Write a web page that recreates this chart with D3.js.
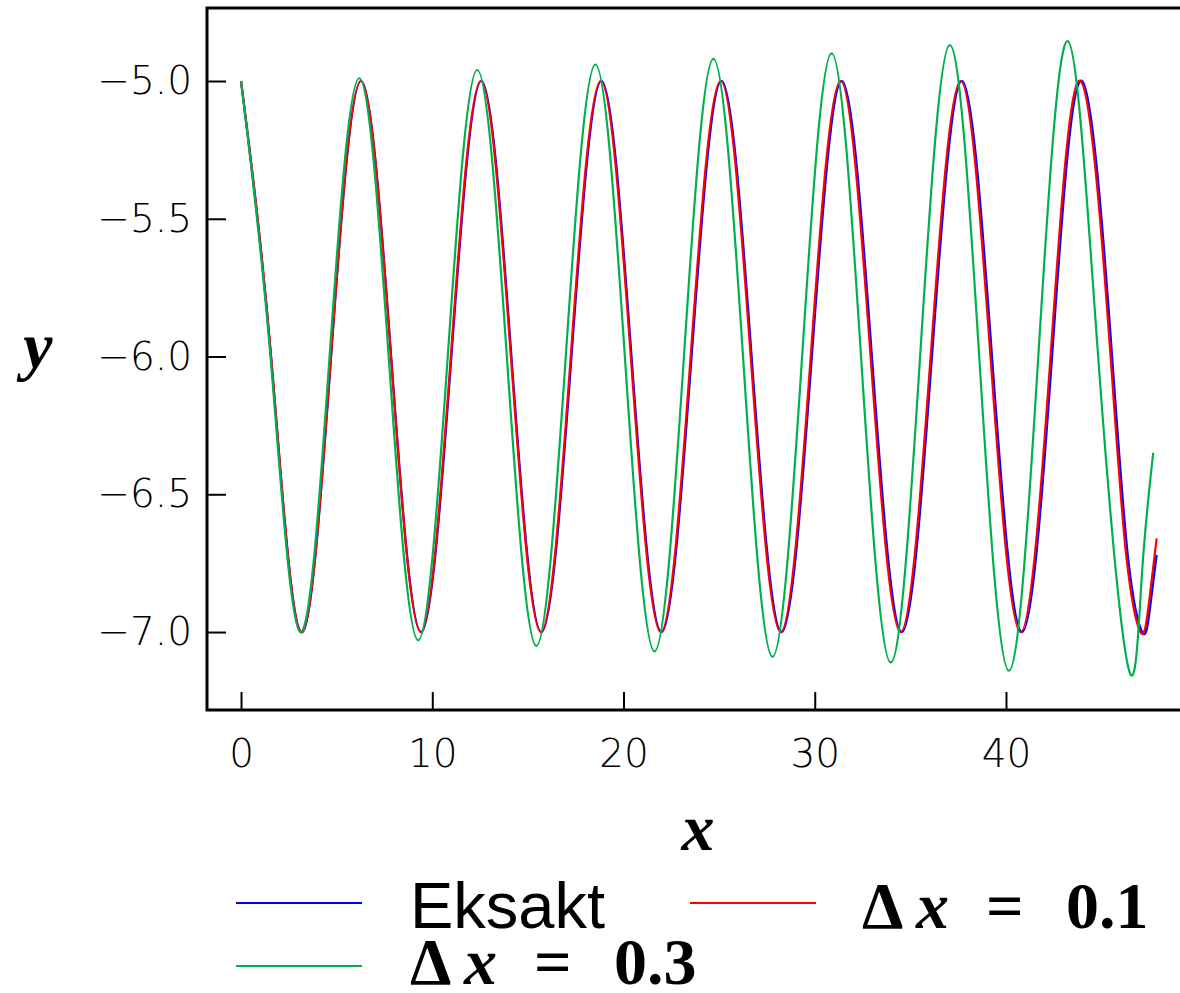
<html lang="en">
<head>
<meta charset="UTF-8">
<title>Eksakt vs numerisk</title>
<script src="https://d3js.org/d3.v7.min.js"></script>
<style>
  body { margin: 0; background: #fff; }
  .tick text { font-family: "DejaVu Sans", sans-serif; font-weight: 200; font-size: 39px; fill: #000; }
  .math { font-family: "Liberation Serif", serif; font-weight: bold; fill: #000; }
  .legend-text { font-family: "Liberation Sans", Arial, sans-serif; font-size: 65px; fill: #000; }
</style>
</head>
<body>
<svg id="chart" width="1180" height="993"></svg>
<script>
// exact solution, read at quarter periods
const exaktX = [0, 1.57, 3.14, 4.71, 6.28, 7.85, 9.42, 11.00, 12.57, 14.14, 15.71, 17.28, 18.85, 20.42, 21.99, 23.56,
  25.13, 26.70, 28.27, 29.85, 31.42, 32.99, 34.56, 36.13, 37.70, 39.27, 40.84, 42.41, 43.98, 45.55, 46.40, 47.12, 47.50, 47.88];
const exaktY = [-5.0, -6.0, -7.0, -6.0, -5.0, -6.0, -7.0, -6.0, -5.0, -6.0, -7.0, -6.0, -5.0, -6.0, -7.0, -6.0,
  -5.0, -6.0, -7.0, -6.0, -5.0, -6.0, -7.0, -6.0, -5.0, -6.0, -7.0, -6.0, -5.0, -6.0, -6.74, -7.0, -6.93, -6.72];

// dx = 0.1
const dx01X = [0, 1.57, 3.13, 4.70, 6.27, 7.84, 9.40, 10.97, 12.54, 14.11, 15.68, 17.24, 18.81, 20.38, 21.95, 23.51,
  25.08, 26.65, 28.22, 29.79, 31.35, 32.92, 34.49, 36.06, 37.63, 39.19, 40.76, 42.33, 43.90, 45.47, 46.30, 47.03, 47.45, 47.88];
const dx01Y = [-5.0, -6.0, -7.0, -6.0, -5.0, -6.0, -7.0, -6.0, -5.0, -6.0, -7.0, -6.0, -5.0, -6.0, -7.0, -6.0,
  -5.0, -6.0, -7.0, -6.0, -5.0, -6.0, -7.0, -6.0, -5.0, -6.0, -7.0, -6.0, -5.0, -6.0, -6.73, -7.0, -6.91, -6.66];

// dx = 0.3
const dx03X = [0, 1.54, 3.09, 4.63, 6.18, 7.72, 9.26, 10.81, 12.35, 13.90, 15.44, 16.98, 18.53, 20.07, 21.62, 23.16,
  24.70, 26.25, 27.79, 29.34, 30.88, 32.42, 33.97, 35.51, 37.06, 38.60, 40.15, 41.69, 43.23, 44.82, 46.40, 47.10, 47.70];
const dx03Y = [-5.0, -6.0, -7.0, -6.0, -4.99, -6.0, -7.03, -6.0, -4.96, -6.0, -7.05, -6.0, -4.94, -6.0, -7.07, -6.0,
  -4.92, -6.0, -7.09, -6.0, -4.90, -6.0, -7.11, -6.0, -4.87, -6.0, -7.14, -6.0, -4.855, -6.0, -7.13, -6.80, -6.35];

const xTicks = [0, 10, 20, 30, 40];
const yTicks = [-5.0, -5.5, -6.0, -6.5, -7.0];

const svg = d3.select("#chart");

const x = d3.scaleLinear().domain([-1.78, 49.1]).range([207, 1180]);
const y = d3.scaleLinear().domain([-7.283, -4.735]).range([710, 8]);

// frame: left, bottom and top lines
svg.append("path")
  .attr("d", `M1180,${y.range()[1]}H${x.range()[0]}V${y.range()[0]}H1180`)
  .attr("fill", "none")
  .attr("stroke", "#000")
  .attr("stroke-width", 3);

const xAxis = d3.axisBottom(x).tickValues(xTicks).tickFormat(d3.format("d"))
  .tickSizeInner(-18).tickSizeOuter(0).tickPadding(29);
const yAxis = d3.axisLeft(y).tickValues(yTicks).tickFormat(d3.format(".1f"))
  .tickSizeInner(-19).tickSizeOuter(0).tickPadding(15);

const gx = svg.append("g").attr("transform", "translate(0,710)").call(xAxis);
const gy = svg.append("g").attr("transform", "translate(207,0)").call(yAxis);
[gx, gy].forEach(g => {
  g.select(".domain").remove();
  g.selectAll(".tick line").attr("stroke", "#000").attr("stroke-width", 2);
});

const line = d3.line().x(d => x(d[0])).y(d => y(d[1])).curve(d3.curveNatural);

const series = [
  { xs: exaktX, ys: exaktY, color: "#0000ff" },
  { xs: dx01X, ys: dx01Y, color: "#ff0000" },
  { xs: dx03X, ys: dx03Y, color: "#00b050" }
];
series.forEach(s => {
  svg.append("path")
    .datum(d3.zip(s.xs, s.ys))
    .attr("d", line)
    .attr("fill", "none")
    .attr("stroke", s.color)
    .attr("stroke-width", 2.2);
});

// axis labels
svg.append("text").attr("class", "math")
  .attr("x", 38).attr("y", 368).attr("text-anchor", "middle")
  .style("font-size", "66px").style("font-style", "italic").text("y");
svg.append("text").attr("class", "math")
  .attr("x", 698).attr("y", 850).attr("text-anchor", "middle")
  .style("font-size", "66px").style("font-style", "italic").text("x");

// legend
const legend = [
  { label: "Eksakt", color: "#0000ff", lx: 236, ly: 903, tx: 410, ty: 928, math: false },
  { label: "0.1", color: "#ff0000", lx: 690, ly: 903, tx: 862, ty: 928, math: true },
  { label: "0.3", color: "#00b050", lx: 236, ly: 966, tx: 410, ty: 984, math: true }
];
legend.forEach(d => {
  svg.append("line")
    .attr("x1", d.lx).attr("x2", d.lx + 126)
    .attr("y1", d.ly).attr("y2", d.ly)
    .attr("stroke", d.color).attr("stroke-width", 2.2);
  if (!d.math) {
    svg.append("text").attr("class", "legend-text")
      .attr("x", d.tx).attr("y", d.ty).text(d.label);
  } else {
    const parts = [
      { t: "Δ", dx: 0, italic: false },
      { t: "x", dx: 54, italic: true },
      { t: "=", dx: 124, italic: false },
      { t: d.label, dx: 204, italic: false }
    ];
    parts.forEach(p => {
      svg.append("text").attr("class", "math")
        .attr("x", d.tx + p.dx).attr("y", d.ty)
        .style("font-size", "66px")
        .style("font-style", p.italic ? "italic" : "normal")
        .text(p.t);
    });
  }
});
</script>
</body>
</html>
